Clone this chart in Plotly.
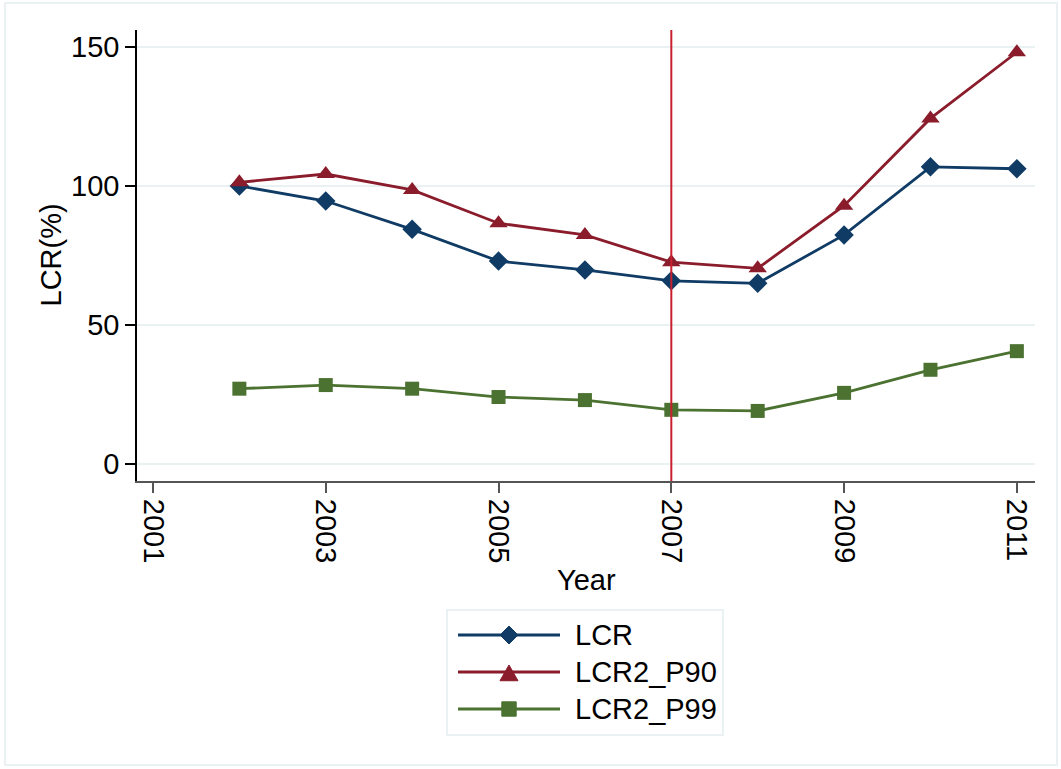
import plotly.graph_objects as go

years = [2002, 2003, 2004, 2005, 2006, 2007, 2008, 2009, 2010, 2011]
lcr = [100.0, 94.6, 84.4, 73.0, 69.8, 65.9, 65.0, 82.4, 106.9, 106.2]
lcr2_p90 = [101.3, 104.3, 98.6, 86.6, 82.4, 72.6, 70.4, 92.9, 124.3, 148.1]
lcr2_p99 = [27.1, 28.4, 27.1, 24.1, 23.0, 19.5, 19.1, 25.6, 33.9, 40.6]
series_names = ["LCR", "LCR2_P90", "LCR2_P99"]
x_ticks = [2001, 2003, 2005, 2007, 2009, 2011]
y_ticks = [0, 50, 100, 150]
ref_year = 2007

FONT = "Liberation Sans, Arial, Helvetica, sans-serif"
FS = 29
GRID = "#e9f1f3"
COLORS = ["#0f3b65", "#8a1c2b", "#4b7230"]
SYMBOLS = ["diamond", "triangle-up", "square"]
SIZES = [15, 16, 14]

fig = go.Figure()
for name, vals, col, sym, sz in zip(series_names, [lcr, lcr2_p90, lcr2_p99], COLORS, SYMBOLS, SIZES):
    fig.add_trace(go.Scatter(x=years, y=vals, name=name, mode="lines+markers",
                             line=dict(color=col, width=2.8),
                             marker=dict(symbol=sym, size=sz, color=col),
                             showlegend=False))

fig.add_vline(x=ref_year, line=dict(color="#c8202f", width=2), layer="above")

# plot area in pixels: x 137..1035, y 30..481
W, H = 1061, 769
L, R, T, B = 137, 1035, 30, 481
pw, ph = R - L, B - T

def px(x):
    return (x - L) / pw

def py(y):
    return (B - y) / ph

# outer frame
fig.add_shape(type="rect", xref="paper", yref="paper",
              x0=px(5), x1=px(1057), y0=py(765), y1=py(3),
              line=dict(color=GRID, width=2), layer="below")

fig.add_annotation(text="LCR(%)", xref="paper", yref="paper", x=px(50), y=0.5,
                   xanchor="center", yanchor="middle",
                   textangle=-90, showarrow=False, font=dict(size=FS, color="black", family=FONT))
fig.add_annotation(text="Year", xref="paper", yref="paper", x=0.5, y=py(580),
                   xanchor="center", yanchor="middle",
                   showarrow=False, font=dict(size=FS, color="black", family=FONT))

# custom legend (Stata-style long keys)
fig.add_shape(type="rect", xref="paper", yref="paper",
              x0=px(447), x1=px(723), y0=py(735), y1=py(610),
              line=dict(color=GRID, width=2), fillcolor="white")


def marker_path(sym, cx, cy, r):
    if sym == "diamond":
        pts = [(cx, cy - r), (cx + r, cy), (cx, cy + r), (cx - r, cy)]
    elif sym == "triangle-up":
        pts = [(cx, cy - r), (cx + r, cy + r * 0.75), (cx - r, cy + r * 0.75)]
    else:
        pts = [(cx - r * 0.8, cy - r * 0.8), (cx + r * 0.8, cy - r * 0.8),
               (cx + r * 0.8, cy + r * 0.8), (cx - r * 0.8, cy + r * 0.8)]
    return "M " + " L ".join(f"{px(a):.5f},{py(b):.5f}" for a, b in pts) + " Z"


row_y = [635, 672, 709]
for name, col, sym, yy in zip(series_names, COLORS, SYMBOLS, row_y):
    fig.add_shape(type="line", xref="paper", yref="paper",
                  x0=px(458), x1=px(560), y0=py(yy), y1=py(yy),
                  line=dict(color=col, width=2.8))
    fig.add_shape(type="path", xref="paper", yref="paper",
                  path=marker_path(sym, 509, yy + (2 if sym == "triangle-up" else 0), 9),
                  fillcolor=col, line=dict(color=col, width=1))
    fig.add_annotation(text=name, xref="paper", yref="paper", x=px(573), y=py(yy),
                       xanchor="left", yanchor="middle", showarrow=False,
                       font=dict(size=FS, color="black", family=FONT))

fig.update_layout(
    width=W, height=H,
    margin=dict(l=L, r=W - R, t=T, b=H - B),
    paper_bgcolor="white", plot_bgcolor="white",
    font=dict(family=FONT, size=FS, color="black"),
    showlegend=False,
    xaxis=dict(range=[2000.815, 2011.21], tickmode="array", tickvals=x_ticks,
               ticktext=[str(v) for v in x_ticks], tickangle=90,
               showgrid=False, zeroline=False, showline=True, linecolor="#555555",
               linewidth=2, ticks="outside", ticklen=10, tickwidth=1.5, tickcolor="#555555",
               tickfont=dict(size=FS, color="black")),
    yaxis=dict(range=[-6.1, 156.1], tickmode="array", tickvals=y_ticks,
               showgrid=True, gridcolor=GRID, gridwidth=2, zeroline=False,
               showline=True, linecolor="black", linewidth=1.5,
               ticks="outside", ticklen=10, tickwidth=1.5, tickcolor="black",
               tickfont=dict(size=FS, color="black")),
)

fig.write_html("out.html")
